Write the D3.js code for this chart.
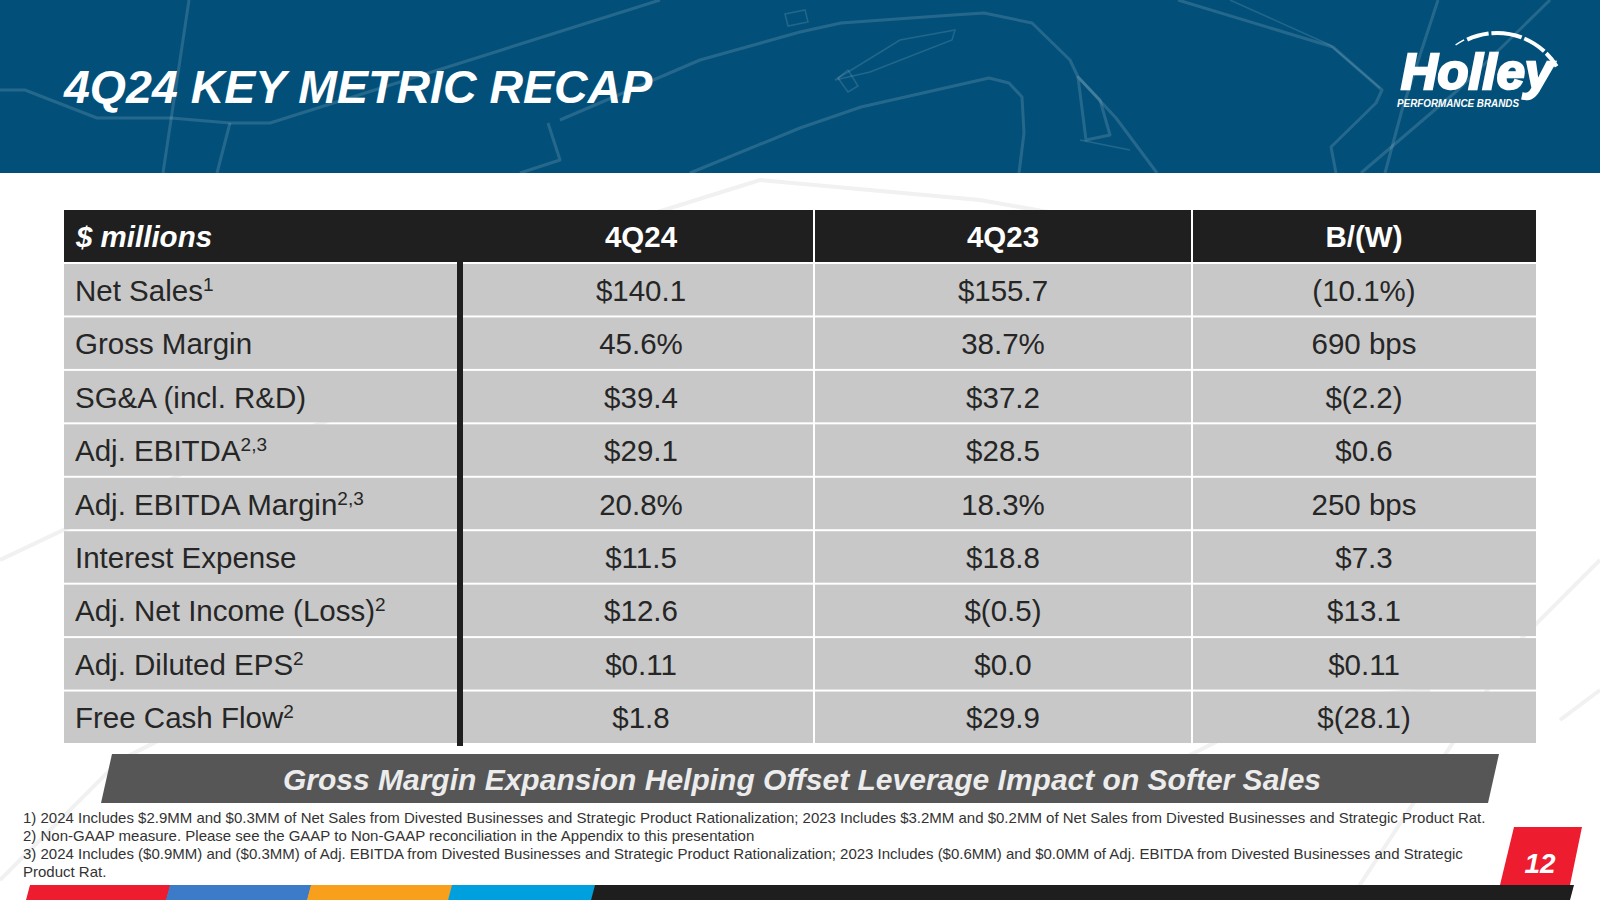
<!DOCTYPE html>
<html>
<head>
<meta charset="utf-8">
<script src="https://cdn.jsdelivr.net/npm/d3@7"></script>
<style>
  html, body { margin: 0; padding: 0; background: #ffffff; }
  svg { display: block; font-family: "Liberation Sans", Arial, sans-serif; }
</style>
</head>
<body>
<svg id="chart" width="1600" height="900"></svg>
<script>
// ---------------- DATA ----------------
const title = "4Q24 KEY METRIC RECAP";
const columnHeaders = ["$ millions", "4Q24", "4Q23", "B/(W)"];
const metrics = ["Net Sales", "Gross Margin", "SG&A (incl. R&D)", "Adj. EBITDA", "Adj. EBITDA Margin",
                 "Interest Expense", "Adj. Net Income (Loss)", "Adj. Diluted EPS", "Free Cash Flow"];
const metricNotes = ["1", "", "", "2,3", "2,3", "", "2", "2", "2"];
const values4Q24 = ["$140.1", "45.6%", "$39.4", "$29.1", "20.8%", "$11.5", "$12.6", "$0.11", "$1.8"];
const values4Q23 = ["$155.7", "38.7%", "$37.2", "$28.5", "18.3%", "$18.8", "$(0.5)", "$0.0", "$29.9"];
const valuesBW   = ["(10.1%)", "690 bps", "$(2.2)", "$0.6", "250 bps", "$7.3", "$13.1", "$0.11", "$(28.1)"];
const bannerText = "Gross Margin Expansion Helping Offset Leverage Impact on Softer Sales";
const footnotes = [
  "1) 2024 Includes $2.9MM and $0.3MM of Net Sales from Divested Businesses and Strategic Product Rationalization; 2023 Includes $3.2MM and $0.2MM of Net Sales from Divested Businesses and Strategic Product Rat.",
  "2) Non-GAAP measure. Please see the GAAP to Non-GAAP reconciliation in the Appendix to this presentation",
  "3) 2024 Includes ($0.9MM) and ($0.3MM) of Adj. EBITDA from Divested Businesses and Strategic Product Rationalization; 2023 Includes ($0.6MM) and $0.0MM of Adj. EBITDA from Divested Businesses and Strategic",
  "Product Rat."
];
const pageNumber = "12";
const stripeColors = ["#ed1c2e", "#3b7bc8", "#f8a01b", "#00a0df"];

// ---------------- LAYOUT ----------------
const svg = d3.select("#chart");
const W = 1600, H = 900;
const BLUE = "#02507a";

// faint line art on white background
const bgArt = svg.append("g").attr("fill", "none").attr("stroke", "#f1f1f1").attr("stroke-width", 4);
[
  "M0,560 L190,470 L330,420",
  "M0,880 L120,760 L240,700",
  "M1350,900 L1520,640 L1600,560",
  "M1560,720 L1600,690",
  "M600,230 L760,180 L980,200 L1150,230",
  "M1180,760 L1300,700 L1430,690"
].forEach(d => bgArt.append("path").attr("d", d));

// header band
svg.append("rect").attr("x", 0).attr("y", 0).attr("width", W).attr("height", 173).attr("fill", BLUE);
const hdrArt = svg.append("g").attr("fill", "none").attr("stroke", "#ffffff").attr("stroke-opacity", 0.14)
  .attr("stroke-width", 3).attr("stroke-linejoin", "round");
[
  "M0,90 L25,90 L97,118 L171,118 L230,123 L270,123 L660,0",
  "M189,0 L163,173",
  "M230,123 L217,173",
  "M560,120 L700,60 L800,32 L841,23 L953,15 L984,13 L1032,23 L1070,60 L1078,77 L1116,118 L1157,173",
  "M690,173 L800,128 L861,107 L989,78 L1009,83 L1022,97 L1024,133 L1019,173",
  "M1178,0 L1333,47 L1382,90 L1376,103 L1331,147 L1336,173",
  "M1438,0 L1402,110 L1385,173",
  "M1550,0 L1458,90 L1361,173",
  "M548,123 L560,160 L520,173",
  "M1078,77 L1086,140 L1110,135 L1100,100 Z"
].forEach(d => hdrArt.append("path").attr("d", d));
const hdrArtThin = svg.append("g").attr("fill", "none").attr("stroke", "#ffffff").attr("stroke-opacity", 0.13).attr("stroke-width", 1.5);
[
  "M835,80 L900,40 L955,30 L952,40 L870,72 Z",
  "M838,78 L848,92 L858,86 L848,70 Z",
  "M785,14 L805,10 L808,22 L788,26 Z",
  "M1230,0 L1330,45 L1380,88",
  "M1080,140 L1130,150"
].forEach(d => hdrArtThin.append("path").attr("d", d));

// title
svg.append("text").attr("x", 64).attr("y", 103)
  .attr("font-size", 46.5).attr("font-weight", "bold").attr("font-style", "italic")
  .attr("fill", "#ffffff").text(title);

// logo
const logo = svg.append("g");
const arcGen = d3.arc();
const logoCx = 1497, logoCy = 103, logoR = 72;
[[-0.62, -0.48, 1.5], [-0.44, -0.12, 4], [-0.08, 0.36, 4], [0.40, 0.74, 4], [0.78, 1.02, 4]].forEach(([a0, a1, w]) => {
  logo.append("path")
    .attr("transform", `translate(${logoCx},${logoCy})`)
    .attr("d", arcGen({innerRadius: logoR - w, outerRadius: logoR, startAngle: a0, endAngle: a1}))
    .attr("fill", "#ffffff");
});
logo.append("text").attr("x", 1401).attr("y", 89)
  .attr("font-size", 50).attr("font-weight", "bold").attr("font-style", "italic")
  .attr("fill", "#ffffff").attr("stroke", "#ffffff").attr("stroke-width", 2.5)
  .attr("textLength", 152).attr("lengthAdjust", "spacingAndGlyphs")
  .text("Holley");
logo.append("text").attr("x", 1397).attr("y", 107)
  .attr("font-size", 10.5).attr("font-weight", "bold").attr("font-style", "italic")
  .attr("fill", "#ffffff").attr("textLength", 122).attr("lengthAdjust", "spacingAndGlyphs")
  .text("PERFORMANCE BRANDS");

// ---------------- TABLE ----------------
const tableLeft = 64, tableRight = 1536;
const headerTop = 210, headerBottom = 262;
const bodyTop = 264, bodyBottom = 745;
const gap = 2;

const colLeft = d3.scaleOrdinal().domain(columnHeaders).range([64, 463, 815, 1193]);
const colRight = d3.scaleOrdinal().domain(columnHeaders).range([457, 813, 1191, 1536]);
// text centre of each value column (the 4Q24 column text sits slightly right of its cell centre)
const colCenter = d3.scaleOrdinal().domain(columnHeaders).range([260, 641, 1003, 1364]);

const y = d3.scaleBand().domain(metrics).range([bodyTop, bodyBottom]).paddingInner(0).paddingOuter(0);
const rowH = y.step() - gap;

// header
svg.append("rect").attr("x", tableLeft).attr("y", headerTop)
  .attr("width", tableRight - tableLeft).attr("height", headerBottom - headerTop).attr("fill", "#1f1f1f");
svg.selectAll("rect.hsep").data(columnHeaders.slice(2)).join("rect")
  .attr("class", "hsep").attr("x", d => colLeft(d) - gap).attr("y", headerTop)
  .attr("width", gap).attr("height", headerBottom - headerTop).attr("fill", "#ffffff");
svg.selectAll("text.hdr").data(columnHeaders).join("text")
  .attr("class", "hdr")
  .attr("x", (d, i) => i === 0 ? 76 : colCenter(d))
  .attr("y", (headerTop + headerBottom) / 2 + 11)
  .attr("text-anchor", (d, i) => i === 0 ? "start" : "middle")
  .attr("font-size", 29.5).attr("font-weight", "bold")
  .attr("font-style", (d, i) => i === 0 ? "italic" : "normal")
  .attr("fill", "#ffffff").text(d => d);

// body cells
const cellData = [];
metrics.forEach((m, i) => {
  columnHeaders.forEach((c, j) => cellData.push({m, c, j, i}));
});
svg.selectAll("rect.cell").data(cellData).join("rect")
  .attr("class", "cell")
  .attr("x", d => colLeft(d.c))
  .attr("y", d => y(d.m))
  .attr("width", d => colRight(d.c) - colLeft(d.c))
  .attr("height", rowH)
  .attr("fill", "#c8c8c8");

// thick divider
svg.append("rect").attr("x", 457).attr("y", headerBottom).attr("width", 6)
  .attr("height", bodyBottom + 1 - headerBottom).attr("fill", "#1f1f1f");

// metric labels
const labels = svg.selectAll("text.lbl").data(metrics).join("text")
  .attr("class", "lbl")
  .attr("x", 75)
  .attr("y", d => y(d) + rowH / 2 + 11)
  .attr("font-size", 29.5).attr("fill", "#262626");
labels.append("tspan").text(d => d);
labels.append("tspan")
  .attr("font-size", 19).attr("dy", -10)
  .text((d, i) => metricNotes[i]);

// values
const valueCols = [values4Q24, values4Q23, valuesBW];
valueCols.forEach((arr, k) => {
  const c = columnHeaders[k + 1];
  svg.selectAll(`text.v${k}`).data(arr).join("text")
    .attr("class", `v${k}`)
    .attr("x", colCenter(c))
    .attr("y", (d, i) => y(metrics[i]) + rowH / 2 + 11)
    .attr("text-anchor", "middle")
    .attr("font-size", 29.5).attr("fill", "#262626")
    .text(d => d);
});

// ---------------- BANNER ----------------
svg.append("path")
  .attr("d", "M112,754 L1499,754 L1488,803 L101,803 Z")
  .attr("fill", "#565656");
svg.append("text").attr("x", 802).attr("y", 790)
  .attr("text-anchor", "middle")
  .attr("font-size", 30).attr("font-weight", "bold").attr("font-style", "italic")
  .attr("fill", "#ececec").text(bannerText);

// ---------------- FOOTNOTES ----------------
svg.selectAll("text.fn").data(footnotes).join("text")
  .attr("class", "fn")
  .attr("x", 23)
  .attr("y", (d, i) => 823 + i * 18)
  .attr("font-size", 15).attr("fill", "#333333")
  .text(d => d);

// ---------------- PAGE NUMBER & STRIPES ----------------
svg.append("path").attr("d", "M1514,827 L1582,827 L1570,885 L1500,885 Z").attr("fill", "#ed1c2e");
svg.append("text").attr("x", 1540).attr("y", 873).attr("text-anchor", "middle")
  .attr("font-size", 28).attr("font-weight", "bold").attr("font-style", "italic")
  .attr("fill", "#ffffff").text(pageNumber);

const stripeEdges = [30, 170, 311, 452, 595];
const stripes = svg.append("g");
stripeColors.forEach((col, i) => {
  const x0 = stripeEdges[i], x1 = stripeEdges[i + 1];
  stripes.append("path")
    .attr("d", `M${x0},885 L${x1 + 0.5},885 L${x1 - 3.5},900 L${x0 - 4},900 Z`)
    .attr("fill", col);
});
stripes.append("path")
  .attr("d", `M${stripeEdges[4]},885 L1574,885 L1570,900 L${stripeEdges[4] - 4},900 Z`)
  .attr("fill", "#1e1e1e");
</script>
</body>
</html>
